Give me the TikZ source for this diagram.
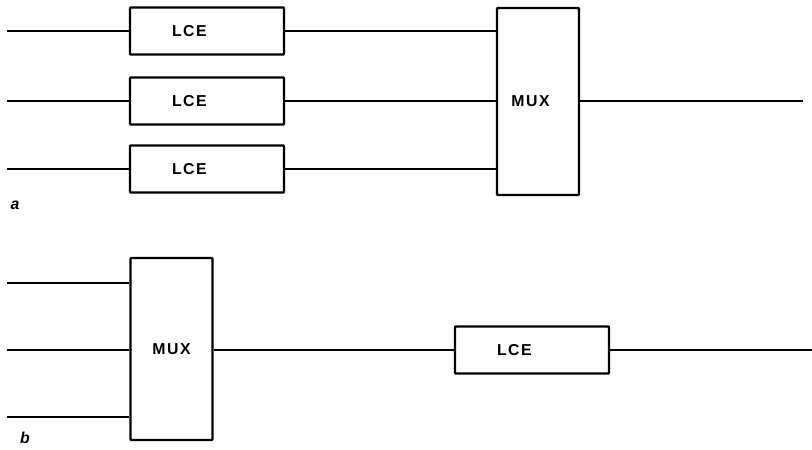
\documentclass[tikz,border=0pt]{standalone}
\usepackage{fontspec}
\setsansfont{Liberation Sans}
\newfontfamily\blockfont[LetterSpace=10]{Liberation Sans}
\usepackage{tikz}
\usetikzlibrary{positioning,calc}

\begin{document}
\begin{tikzpicture}[
    lce/.style={draw, line width=1.4pt, rounded corners=0.5pt, minimum width=3.08cm, minimum height=0.94cm, text width=1.4cm, inner xsep=0.84cm, align=left, font=\blockfont\bfseries\small},
    mux/.style={draw, line width=1.4pt, rounded corners=0.5pt, minimum width=1.64cm, inner sep=0pt, font=\blockfont\bfseries\small},
    wire/.style={line width=0.9pt},
    part/.style={font=\sffamily\itshape\bfseries\small, inner sep=0pt}
]
\useasboundingbox (0,0) rectangle (16.24,9);

% a: one coder per channel, then multiplex
\node[lce] (lceA) at (4.14,8.38) {LCE};
\node[lce] (lceB) at (4.14,6.98) {LCE};
\node[lce] (lceC) at (4.14,5.62) {LCE};
\node[mux, minimum height=3.74cm] (muxa) at (10.76,6.97) {MUX\hspace*{0.3cm}};
\coordinate (inA) at (0.14,8.38);
\coordinate (inB) at (0.14,6.98);
\coordinate (inC) at (0.14,5.62);
\coordinate (outa) at (16.06,6.98);
\node[part] (taga) at (0.3,4.9) {a};

\draw[wire] (inA) -- (lceA);
\draw[wire] (inB) -- (lceB);
\draw[wire] (inC) -- (lceC);
\draw[wire] (lceA.east) -- (lceA.east -| muxa.west);
\draw[wire] (lceB.east) -- (lceB.east -| muxa.west);
\draw[wire] (lceC.east) -- (lceC.east -| muxa.west);
\draw[wire] (muxa.east |- outa) -- (outa);

% b: multiplex first, one coder
\node[mux, minimum height=3.64cm] (muxb) at (3.43,2.02) {MUX};
\node[lce] (lceD) at (10.64,2.0) {LCE};
\coordinate (inD) at (0.14,3.34);
\coordinate (inE) at (0.14,2.0);
\coordinate (inF) at (0.14,0.66);
\coordinate (outb) at (16.24,2.0);
\node[part] (tagb) at (0.5,0.24) {b};

\draw[wire] (inD) -- (inD -| muxb.west);
\draw[wire] (inE) -- (inE -| muxb.west);
\draw[wire] (inF) -- (inF -| muxb.west);
\draw[wire] (muxb.east |- lceD.west) -- (lceD.west);
\draw[wire] (lceD.east) -- (outb);
\end{tikzpicture}
\end{document}
